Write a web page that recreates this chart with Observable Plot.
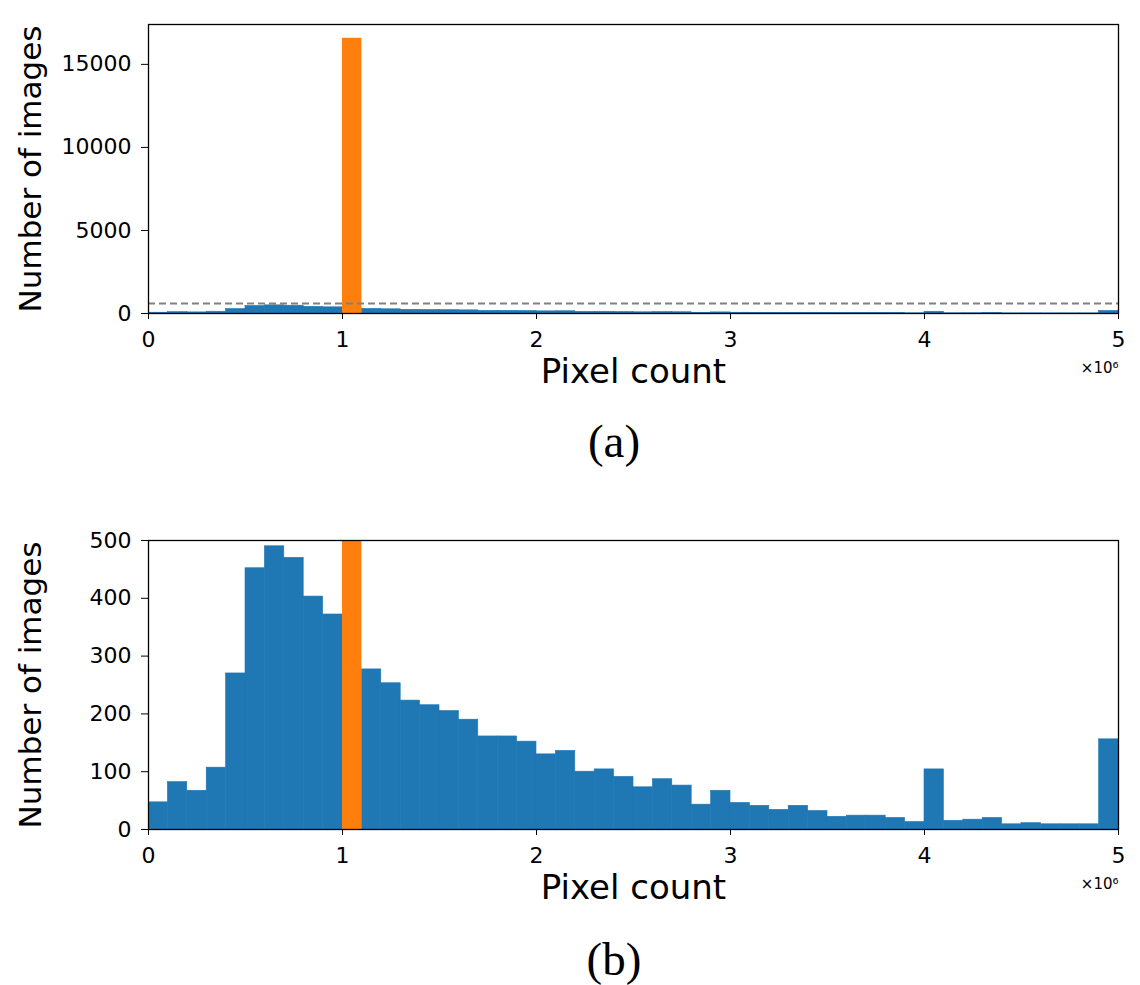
<!DOCTYPE html>
<html>
<head>
<meta charset="utf-8">
<script src="https://cdn.jsdelivr.net/npm/d3@7"></script>
<script src="https://cdn.jsdelivr.net/npm/@observablehq/plot@0.6"></script>
<style>
  html, body { margin: 0; padding: 0; background: #fff; }
  #root { position: relative; width: 1140px; height: 985px; overflow: hidden; font-family: "DejaVu Sans", sans-serif; }
  .panel { position: absolute; left: 0; }
  .cap { position: absolute; width: 200px; left: 514px; text-align: center; font-family: "Liberation Serif", "Times New Roman", serif; font-size: 47px; line-height: 1; color: #000; }
</style>
</head>
<body>
<div id="root"></div>
<script>
// ---- data ----
const binWidth = 1e5;                       // pixel-count bin width
const binStarts = d3.range(0, 5e6, binWidth); // 50 bins from 0 to 5e6
const blueCounts = [47, 82, 67, 107, 270, 452, 490, 470, 403, 372,
  null, 277, 253, 223, 215, 205, 190, 161, 161, 152,
  130, 136, 100, 104, 91, 73, 87, 76, 43, 67,
  46, 41, 34, 41, 32, 22, 24, 24, 20, 13,
  104, 15, 17, 20, 9, 11, 9, 9, 9, 156];
const orangeStart = [1.0e6];
const orangeCount = [16570];
const thresholdLine = [600];
const xTicks = [0, 1e6, 2e6, 3e6, 4e6, 5e6];
const yTicksA = [0, 5000, 10000, 15000];
const yTicksB = [0, 100, 200, 300, 400, 500];
const yLabel = "Number of images";
const xLabel = "Pixel count";
const offsetLabel = "×10⁶";

const blueData = binStarts.map((s, i) => ({x1: s, x2: s + binWidth, y: blueCounts[i]})).filter(d => d.y != null);
const orangeData = orangeStart.map((s, i) => ({x1: s, x2: s + binWidth, y: orangeCount[i]}));

const BLUE = "#1f77b4", ORANGE = "#ff7f0e";

function panel({height, marginTop, marginBottom, yDomain, yTicks, dashed}) {
  const marks = [
    Plot.rectY(blueData, {x1: "x1", x2: "x2", y: "y", fill: BLUE, stroke: BLUE, strokeWidth: 0.6, clip: true}),
    Plot.rectY(orangeData, {x1: "x1", x2: "x2", y: "y", fill: ORANGE, clip: true}),
  ];
  if (dashed) marks.push(Plot.ruleY(thresholdLine, {stroke: "#808080", strokeWidth: 2, strokeDasharray: "7,4"}));
  marks.push(
    Plot.frame({stroke: "#000", strokeWidth: 1.3}),
    Plot.axisX({ticks: xTicks, tickFormat: d => d / 1e6, tickSize: 6, tickPadding: 12, fontSize: 22, label: null, stroke: "#000"}),
    Plot.axisY({ticks: yTicks, tickFormat: d => String(d), tickSize: 7, tickPadding: 10, fontSize: 22, label: null, stroke: "#000"}),
    Plot.text([yLabel], {frameAnchor: "left", textAnchor: "middle", rotate: -90, dx: -117, fontSize: 31, fill: "#000"}),
    Plot.text([xLabel], {frameAnchor: "bottom", textAnchor: "middle", lineAnchor: "middle", dy: 59, fontSize: 34, fill: "#000"}),
    Plot.text([offsetLabel], {frameAnchor: "bottom-right", textAnchor: "end", lineAnchor: "middle", dy: 55, fontSize: 15, fill: "#000"})
  );
  return Plot.plot({
    width: 1140,
    height,
    marginLeft: 148,
    marginRight: 22,
    marginTop,
    marginBottom,
    style: {fontFamily: "DejaVu Sans, sans-serif", color: "#000", background: "transparent", overflow: "visible"},
    x: {domain: [0, 5e6], axis: null},
    y: {domain: yDomain, axis: null},
    marks
  });
}

const root = document.getElementById("root");

const a = panel({height: 420, marginTop: 24, marginBottom: 107, yDomain: [0, 17400], yTicks: yTicksA, dashed: true});
a.classList.add("panel"); a.style.top = "0px";
root.appendChild(a);

const b = panel({height: 420, marginTop: 40, marginBottom: 91, yDomain: [0, 500], yTicks: yTicksB, dashed: false});
b.classList.add("panel"); b.style.top = "500px";
root.appendChild(b);

const capA = document.createElement("div");
capA.className = "cap"; capA.textContent = "(a)"; capA.style.top = "418px";
root.appendChild(capA);
const capB = document.createElement("div");
capB.className = "cap"; capB.textContent = "(b)"; capB.style.top = "936px";
root.appendChild(capB);
</script>
</body>
</html>
